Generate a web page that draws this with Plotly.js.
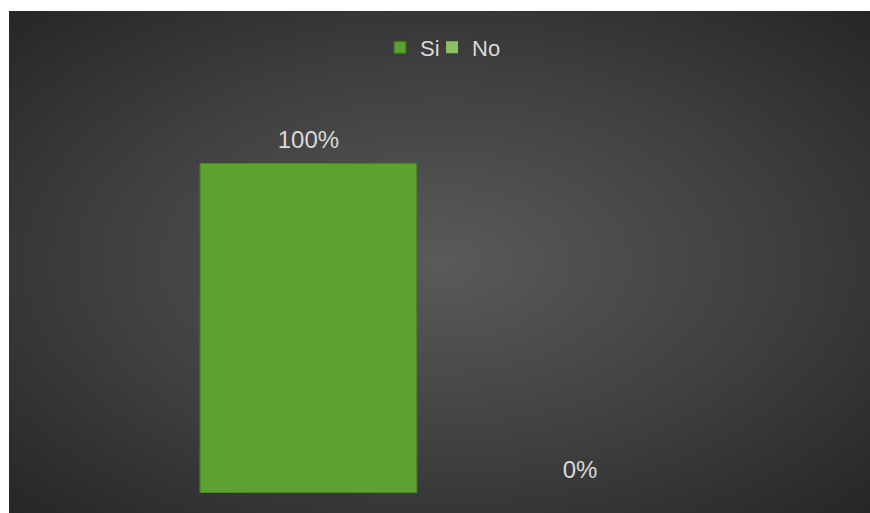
<!DOCTYPE html>
<html>
<head>
<meta charset="utf-8">
<script src="https://cdn.plot.ly/plotly-3.0.1.min.js"></script>
<style>
  html, body { margin: 0; padding: 0; background: #ffffff; }
  #bg { position: absolute; left: 9px; top: 11px; width: 861px; height: 502px;
        background: radial-gradient(ellipse farthest-corner at 50% 50%, #5a5a5a 0%, #3f3f3f 55%, #262626 100%); }
  #chart { position: absolute; left: 0; top: 0; width: 870px; height: 513px; }
</style>
</head>
<body>
<div id="bg"></div>
<div id="chart"></div>
<script>
// Data
const categories = ['Si', 'No'];
const values = [1.0, 0.0];
const seriesColors = ['#5ca22f', '#8cc063'];
const lineColors = ['#3d6b22', '#5a8a40'];
const lineWidths = [1.2, 0];
const legendIds = ['legend', 'legend2'];

const traces = [];
categories.forEach((c, i) => {
  traces.push({
    type: 'bar',
    name: c,
    x: [c],
    y: [values[i]],
    width: 0.8,
    legend: legendIds[i],
    marker: { color: seriesColors[i], line: { color: lineColors[i], width: lineWidths[i] } },
    hoverinfo: 'none'
  });
});
// data labels
traces.push({
  type: 'scatter',
  mode: 'markers+text',
  x: categories,
  y: values,
  texttemplate: '%{y:.0%}',
  textposition: 'top center',
  textfont: { family: 'Liberation Sans, Arial, sans-serif', size: 24, color: '#d9d9d9' },
  marker: { size: 13, opacity: 0 },
  cliponaxis: false,
  showlegend: false,
  hoverinfo: 'none'
});

const legendStyle = (x) => ({
  orientation: 'h',
  x: x, xanchor: 'left',
  y: 1.35, yanchor: 'middle',
  font: { family: 'Liberation Sans, Arial, sans-serif', size: 22, color: '#d9d9d9' },
  bgcolor: 'rgba(0,0,0,0)',
  itemclick: false
});

const layout = {
  width: 870,
  height: 513,
  margin: { l: 0, r: 0, t: 163, b: 20 },
  paper_bgcolor: 'rgba(0,0,0,0)',
  plot_bgcolor: 'rgba(0,0,0,0)',
  barmode: 'overlay',
  showlegend: true,
  legend: legendStyle(0.4368),
  legend2: legendStyle(0.4966),
  xaxis: {
    type: 'category',
    categoryorder: 'array',
    categoryarray: categories,
    range: [-1.136, 2.068],
    showticklabels: false,
    showgrid: false,
    zeroline: false,
    showline: false,
    ticks: ''
  },
  yaxis: {
    range: [0, 1],
    showticklabels: false,
    showgrid: false,
    zeroline: false,
    showline: false,
    ticks: ''
  }
};

Plotly.newPlot('chart', traces, layout, { displayModeBar: false, staticPlot: true });
</script>
</body>
</html>
